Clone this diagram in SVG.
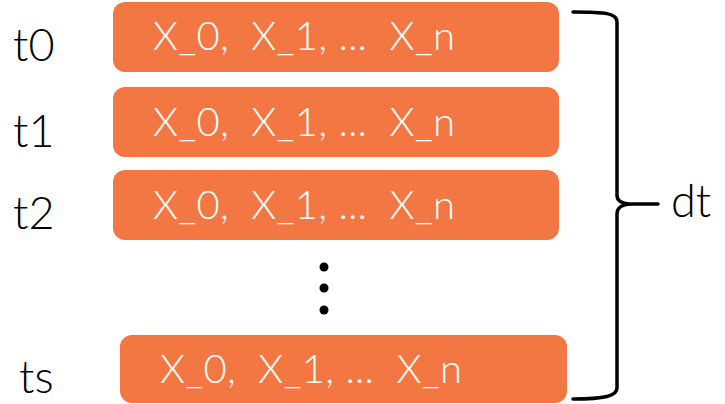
<svg xmlns="http://www.w3.org/2000/svg" width="725" height="404" viewBox="0 0 725 404">
<style>
.box{fill:#F37742;}
.bt{font-family:"Lato","Liberation Sans",Arial,sans-serif;font-weight:300;font-size:40px;fill:#ffffff;white-space:pre;}
.lbl{font-family:"Lato","Liberation Sans",Arial,sans-serif;font-weight:300;font-size:45px;fill:#000000;}
.brace{fill:none;stroke:#000;stroke-width:3.5;stroke-linecap:round;stroke-linejoin:round;}
</style>
<rect width="725" height="404" fill="#ffffff"/>
<g id="row0">
<rect class="box" x="113" y="2" width="446" height="70" rx="12"/>
<text class="bt" x="153" y="50" textLength="302" xml:space="preserve">X_0,  X_1, ...  X_n</text>
</g>
<g id="row1">
<rect class="box" x="113" y="87" width="446" height="70" rx="12"/>
<text class="bt" x="153" y="136" textLength="302" xml:space="preserve">X_0,  X_1, ...  X_n</text>
</g>
<g id="row2">
<rect class="box" x="113" y="170" width="446" height="70" rx="12"/>
<text class="bt" x="153" y="219" textLength="302" xml:space="preserve">X_0,  X_1, ...  X_n</text>
</g>
<g id="rows">
<rect class="box" x="120" y="335" width="447" height="68" rx="12"/>
<text class="bt" x="160" y="383" textLength="302" xml:space="preserve">X_0,  X_1, ...  X_n</text>
</g>
<g id="labels">
<text class="lbl" x="13" y="61">t0</text>
<text class="lbl" x="13" y="147">t1</text>
<text class="lbl" x="13" y="229">t2</text>
<text class="lbl" x="19" y="393">ts</text>
<text class="lbl" x="671" y="217">dt</text>
</g>
<g id="dots">
<circle cx="324" cy="267" r="4.5"/>
<circle cx="324" cy="288" r="4.5"/>
<circle cx="324" cy="310" r="4.5"/>
</g>
<g id="connectors">
<path class="brace" d="M573,12 C605,12 617,13 617,22 L617,195 C617,202 624,204 632,204 L658,204 M632,204 C624,204 617,207 617,214 L617,388 C617,396 605,399 573,399"/>
</g>
</svg>
